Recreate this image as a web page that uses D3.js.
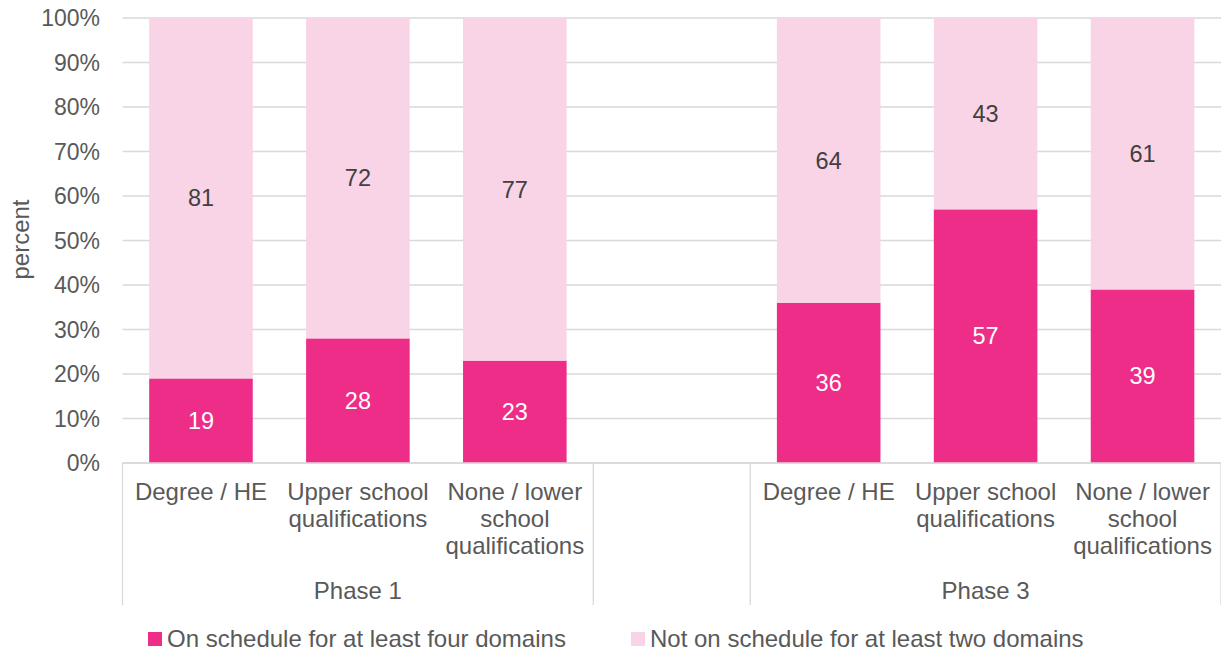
<!DOCTYPE html>
<html>
<head>
<meta charset="utf-8">
<script src="https://cdn.jsdelivr.net/npm/d3@7"></script>
<style>
  html, body { margin: 0; padding: 0; background: #fff; }
  svg { display: block; font-family: "Liberation Sans", Arial, sans-serif; }
</style>
</head>
<body>
<svg id="chart" width="1221" height="654"></svg>
<script>
// ---- data ----
const phases = ["Phase 1", "", "Phase 3"];
const phaseSlots = [[0, 1, 2], [3], [4, 5, 6]];
const categoryLines = [
  ["Degree / HE"],
  ["Upper school", "qualifications"],
  ["None / lower", "school", "qualifications"],
  [],
  ["Degree / HE"],
  ["Upper school", "qualifications"],
  ["None / lower", "school", "qualifications"]
];
const onSchedule = [19, 28, 23, null, 36, 57, 39];
const notOnSchedule = [81, 72, 77, null, 64, 43, 61];
const yTicks = [0, 10, 20, 30, 40, 50, 60, 70, 80, 90, 100];
const seriesNames = ["On schedule for at least four domains", "Not on schedule for at least two domains"];
const seriesColors = ["#ED2D87", "#F9D3E6"];

(function () {
// ---- layout ----
const svg = d3.select("#chart");
const plotLeft = 122.5, plotRight = 1221, plotTop = 18, plotBottom = 463;
const textColor = "#595959";
const fs = 24, tickFs = 23;

const x = d3.scaleBand().domain(d3.range(categoryLines.length))
  .range([plotLeft, plotRight]).paddingInner(0.34).paddingOuter(0.17);
const y = d3.scaleLinear().domain([0, 100]).range([plotBottom, plotTop]);

// gridlines
svg.append("g").selectAll("line").data(yTicks).join("line")
  .attr("x1", plotLeft).attr("x2", plotRight)
  .attr("y1", d => y(d)).attr("y2", d => y(d))
  .attr("stroke", "#D9D9D9").attr("stroke-width", 1.3);

// y tick labels
svg.append("g").selectAll("text").data(yTicks).join("text")
  .attr("x", 100).attr("y", d => y(d)).attr("dy", "0.35em")
  .attr("text-anchor", "end").attr("fill", textColor).attr("font-size", tickFs)
  .text(d => d + "%");

// y axis title
svg.append("text")
  .attr("transform", `translate(29,${(plotTop + plotBottom) / 2 - 1}) rotate(-90)`)
  .attr("text-anchor", "middle").attr("fill", textColor).attr("font-size", fs)
  .text("percent");

// stacked data
const rows = d3.range(categoryLines.length)
  .filter(i => onSchedule[i] != null)
  .map(i => ({ i, a: onSchedule[i], b: notOnSchedule[i] }));
const layers = d3.stack().keys(["a", "b"])(rows);

svg.append("g").selectAll("g").data(layers).join("g")
  .attr("fill", (d, k) => seriesColors[k])
  .selectAll("rect").data(d => d).join("rect")
  .attr("x", d => x(d.data.i)).attr("width", x.bandwidth())
  .attr("y", d => y(d[1])).attr("height", d => y(d[0]) - y(d[1]));

// data labels
const labelColors = ["#FFFFFF", "#404040"];
svg.append("g").selectAll("g").data(layers).join("g")
  .attr("fill", (d, k) => labelColors[k])
  .selectAll("text").data(d => d).join("text")
  .attr("x", d => x(d.data.i) + x.bandwidth() / 2)
  .attr("y", d => y((d[0] + d[1]) / 2)).attr("dy", "0.35em")
  .attr("text-anchor", "middle").attr("font-size", 23.5)
  .text(d => d[1] - d[0]);

// category axis lines
const axisBottom = 605;
svg.append("line").attr("x1", plotLeft).attr("x2", plotRight).attr("y1", plotBottom).attr("y2", plotBottom)
  .attr("stroke", "#D9D9D9").attr("stroke-width", 1.3);
const boundaries = [plotLeft].concat(phaseSlots.map(s => x(s[s.length - 1]) + x.bandwidth() + x.step() * x.paddingInner() / 2));
svg.append("g").selectAll("line").data(boundaries).join("line")
  .attr("x1", d => d).attr("x2", d => d)
  .attr("y1", plotBottom).attr("y2", axisBottom)
  .attr("stroke", "#D9D9D9").attr("stroke-width", 1.3);

// category labels
const catG = svg.append("g").attr("fill", textColor).attr("font-size", fs).attr("text-anchor", "middle");
categoryLines.forEach((lines, i) => {
  lines.forEach((ln, j) => {
    catG.append("text")
      .attr("x", x(i) + x.bandwidth() / 2)
      .attr("y", 492 + j * 27).attr("dy", "0.35em")
      .text(ln);
  });
});

// phase labels
phases.forEach((p, k) => {
  const s = phaseSlots[k];
  const cx = (x(s[0]) + x(s[s.length - 1]) + x.bandwidth()) / 2;
  svg.append("text").attr("x", cx).attr("y", 591).attr("dy", "0.35em")
    .attr("text-anchor", "middle").attr("fill", textColor).attr("font-size", fs)
    .text(p);
});

// legend
const legendX = [148, 631];
const lg = svg.append("g").selectAll("g").data(seriesNames).join("g")
  .attr("transform", (d, k) => `translate(${legendX[k]},632)`);
lg.append("rect").attr("width", 14).attr("height", 14).attr("fill", (d, k) => seriesColors[k]);
lg.append("text").attr("x", 19).attr("y", 7).attr("dy", "0.35em")
  .attr("fill", textColor).attr("font-size", fs).text(d => d);
})();
</script>
</body>
</html>
